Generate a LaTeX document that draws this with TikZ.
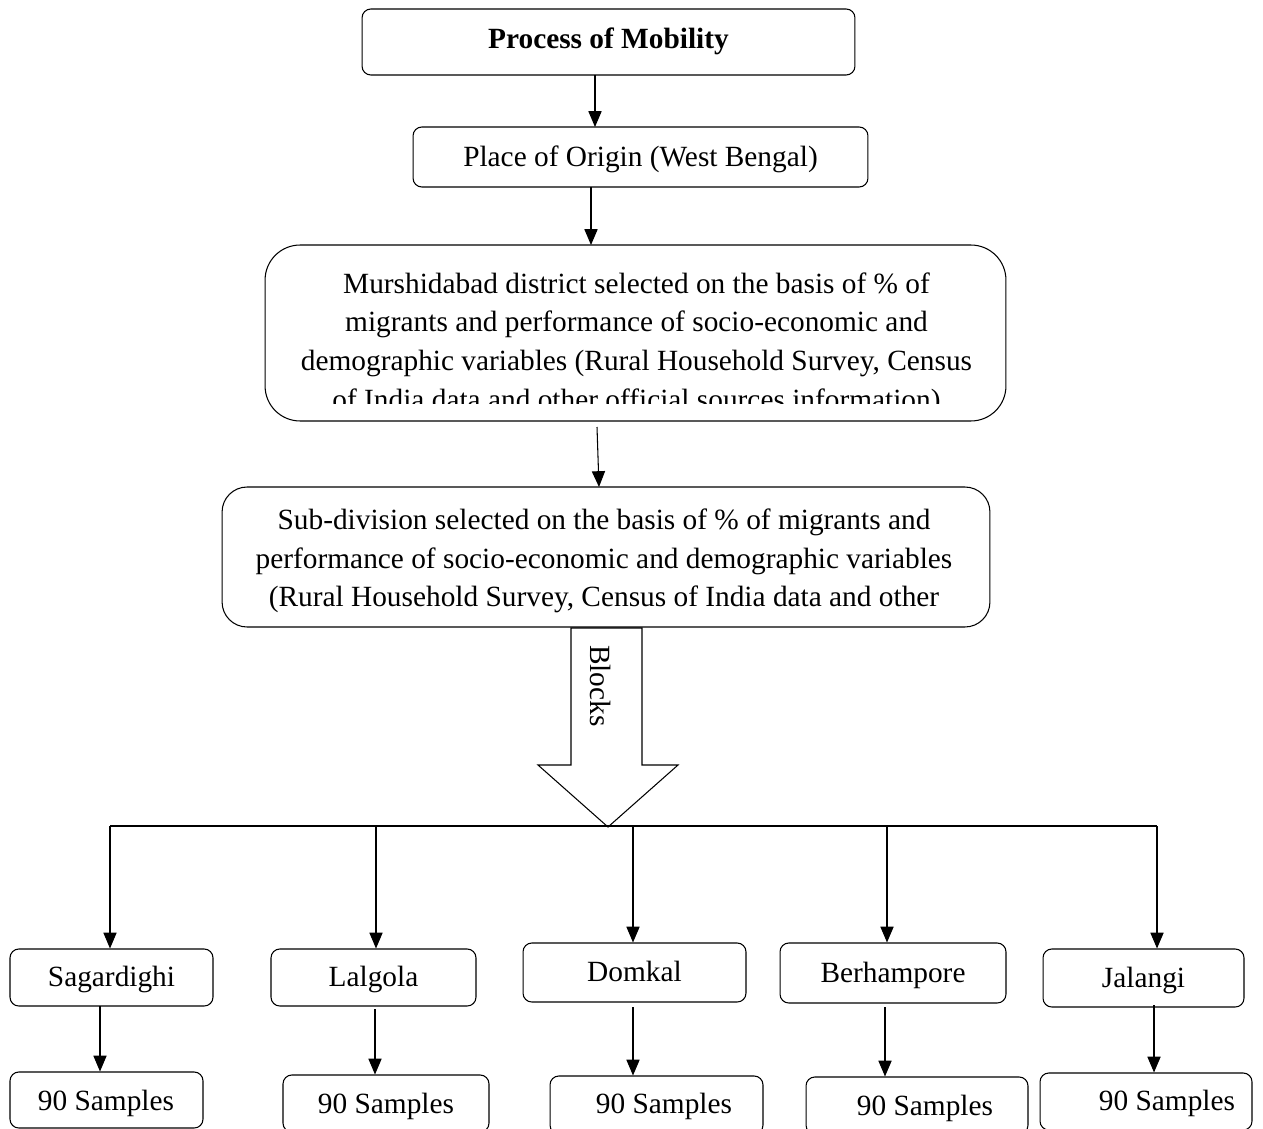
\documentclass[tikz,border=0pt]{standalone}
\usepackage{fontspec}
\setmainfont{Liberation Serif}
\usetikzlibrary{arrows.meta,calc}
\begin{document}
\begin{tikzpicture}[x=0.02cm,y=-0.02cm,line width=0.6pt,
  every node/.style={font=\fontsize{16.7}{22}\selectfont},
  box/.style={draw,rounded corners=#1,inner sep=0pt,align=center},
  box/.default=5pt,
  tb/.style={text height=#1,text depth=0pt},
  arr/.style={-{Triangle[length=9pt,width=7.5pt]}},
  txt/.style={inner sep=0pt,align=center}]
\useasboundingbox (0,0) rectangle (1263,1128);
\clip (0,0) rectangle (1263,1128);
% top boxes
\node[box=5pt,tb=7.9pt,minimum width=9.86cm,minimum height=1.32cm] (b1) at (608.5,42) {\textbf{Process of Mobility}};
\node[box=5pt,tb=11.3pt,minimum width=9.1cm,minimum height=1.2cm] (b2) at (640.5,157) {Place of Origin (West Bengal)};
\node[box=0.7cm,minimum width=14.82cm,minimum height=3.52cm] (b3) at (635.5,333) {};
\begin{scope}
  \clip (265,245) rectangle (1006,403);
  \node[txt] (t3) at (636.5,344) {Murshidabad district selected on the basis of \% of\\migrants and performance of socio-economic and\\demographic variables (Rural Household Survey, Census\\of India data and other official sources information)};
\end{scope}
\node[box=0.5cm,minimum width=15.36cm,minimum height=2.8cm] (b4) at (606,557) {};
\node[txt] (t4) at (604,561) {Sub-division selected on the basis of \% of migrants and\\performance of socio-economic and demographic variables\\(Rural Household Survey, Census of India data and other};
% connectors top
\coordinate (a1s) at (595,75);
\coordinate (a1e) at (595,127);
\draw[arr] (a1s) -- (a1e);
\coordinate (a2s) at (591,187);
\coordinate (a2e) at (591,245);
\draw[arr] (a2s) -- (a2e);
\coordinate (a3s) at (597,427);
\coordinate (a3e) at (599,487);
\draw[arr] (a3s) -- (a3e);
% block arrow
\draw (571,628) -- (571,765) -- (538,765) -- (608,827) -- (678,765) -- (642,765) -- (642,628) -- cycle;
\node[txt,rotate=-90] (blk) at (601,686) {Blocks};
% horizontal bar
\coordinate (h1) at (110,826);
\coordinate (h2) at (376,826);
\coordinate (h3) at (633,826);
\coordinate (h4) at (887,826);
\coordinate (h5) at (1157,826);
\draw (h1) -- (h5);
% block boxes
\node[box=5pt,tb=10.8pt,minimum width=4.06cm,minimum height=1.14cm] (s1) at (111.5,977.5) {Sagardighi};
\node[box=5pt,tb=10.8pt,minimum width=4.1cm,minimum height=1.14cm] (s2) at (373.5,977.5) {Lalgola};
\node[box=5pt,tb=10.8pt,minimum width=4.46cm,minimum height=1.18cm] (s3) at (634.5,972.5) {Domkal};
\node[box=5pt,tb=11.3pt,minimum width=4.52cm,minimum height=1.2cm] (s4) at (893,973) {Berhampore};
\node[box=5pt,tb=11.3pt,minimum width=4.02cm,minimum height=1.16cm] (s5) at (1143.5,978) {Jalangi};
\draw[arr] (h1) -- (h1 |- s1.north);
\draw[arr] (h2) -- (h2 |- s2.north);
\draw[arr] (h3) -- (h3 |- s3.north);
\draw[arr] (h4) -- (h4 |- s4.north);
\draw[arr] (h5) -- (h5 |- s5.north);
% sample boxes
\node[box=5pt,minimum width=3.86cm,minimum height=1.12cm] (p1) at (106.5,1100) {};
\node[box=5pt,minimum width=4.12cm,minimum height=1.14cm] (p2) at (386,1103.5) {};
\node[box=5pt,minimum width=4.26cm,minimum height=1.16cm] (p3) at (656.5,1105) {};
\node[box=5pt,minimum width=4.44cm,minimum height=1.14cm] (p4) at (917,1105.5) {};
\node[box=5pt,minimum width=4.24cm,minimum height=1.14cm] (p5) at (1146,1101.5) {};
\node[txt,anchor=base] (q1) at (106,1110) {90 Samples};
\node[txt,anchor=base] (q2) at (386,1113) {90 Samples};
\node[txt,anchor=base] (q3) at (664,1113) {90 Samples};
\node[txt,anchor=base] (q4) at (925,1115) {90 Samples};
\node[txt,anchor=base] (q5) at (1167,1110) {90 Samples};
\coordinate (v1) at (100,1006);
\coordinate (v2) at (375,1009);
\coordinate (v3) at (633,1007);
\coordinate (v4) at (885,1007);
\coordinate (v5) at (1154,1005);
\draw[arr] (v1) -- (v1 |- p1.north);
\draw[arr] (v2) -- (v2 |- p2.north);
\draw[arr] (v3) -- (v3 |- p3.north);
\draw[arr] (v4) -- (v4 |- p4.north);
\draw[arr] (v5) -- (v5 |- p5.north);
\end{tikzpicture}
\end{document}
